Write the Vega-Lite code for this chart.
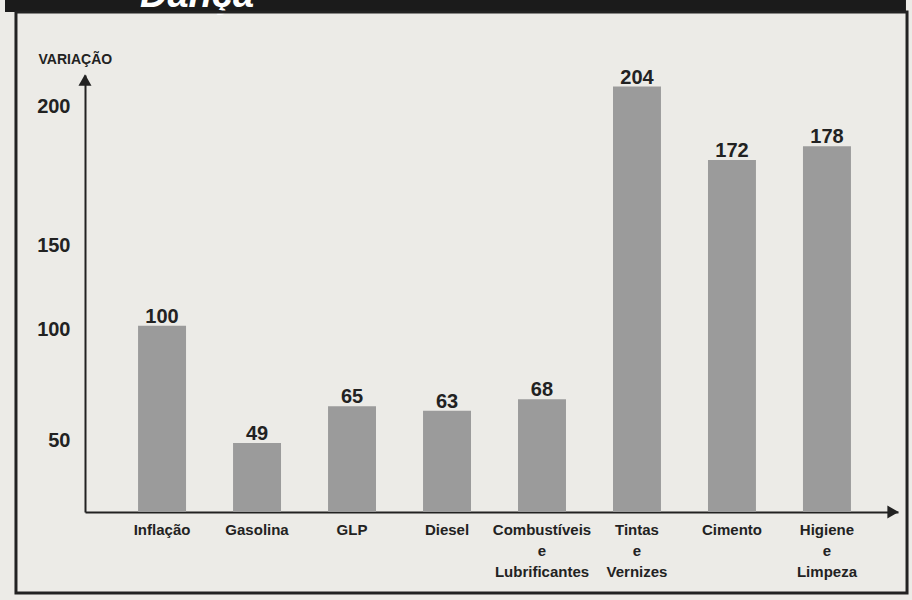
{
  "$schema": "https://vega.github.io/schema/vega-lite/v6.json",
  "width": 813,
  "height": 437,
  "autosize": "none",
  "padding": {"left": 85, "top": 75, "right": 14, "bottom": 88},
  "background": "#ecebe7",
  "config": {
    "view": {"stroke": null},
    "font": "Liberation Sans, Arial, sans-serif"
  },
  "datasets": {
    "bars": [
      {"item": "Inflação", "value": 100},
      {"item": "Gasolina", "value": 49},
      {"item": "GLP", "value": 65},
      {"item": "Diesel", "value": 63},
      {"item": "Combustíveis e Lubrificantes", "value": 68},
      {"item": "Tintas e Vernizes", "value": 204},
      {"item": "Cimento", "value": 172},
      {"item": "Higiene e Limpeza", "value": 178}
    ]
  },
  "layer": [
    {
      "data": {"values": [{}]},
      "layer": [
        {
          "mark": {"type": "rect", "fill": "#1b1b1b"},
          "encoding": {
            "x": {"datum": -0.0984, "type": "quantitative", "scale": {"domain": [0, 1], "nice": false, "zero": false}, "axis": null},
            "x2": {"datum": 1.0098},
            "y": {"datum": 1.1442, "type": "quantitative", "scale": {"domain": [0, 1], "nice": false, "zero": false}, "axis": null},
            "y2": {"datum": 1.1716}
          }
        },
        {
          "mark": {"type": "text", "align": "left", "baseline": "alphabetic", "fontSize": 38, "fontStyle": "italic", "fontWeight": "bold", "color": "#ffffff"},
          "encoding": {
            "x": {"datum": 0.0677, "type": "quantitative", "scale": {"domain": [0, 1], "nice": false, "zero": false}, "axis": null},
            "y": {"datum": 1.1556, "type": "quantitative", "scale": {"domain": [0, 1], "nice": false, "zero": false}, "axis": null},
            "text": {"value": "Dança"}
          }
        },
        {
          "mark": {"type": "rect", "fill": null, "stroke": "#222222", "strokeWidth": 3},
          "encoding": {
            "x": {"datum": -0.0849, "type": "quantitative", "scale": {"domain": [0, 1], "nice": false, "zero": false}, "axis": null},
            "x2": {"datum": 1.0111},
            "y": {"datum": -0.1854, "type": "quantitative", "scale": {"domain": [0, 1], "nice": false, "zero": false}, "axis": null},
            "y2": {"datum": 1.1442}
          }
        },
        {
          "mark": {"type": "point", "shape": "triangle-up", "filled": true, "color": "#222222", "size": 170, "opacity": 1, "yOffset": 5},
          "encoding": {
            "x": {"datum": 0, "type": "quantitative", "scale": {"domain": [0, 1], "nice": false, "zero": false}, "axis": null},
            "y": {"datum": 1, "type": "quantitative", "scale": {"domain": [0, 1], "nice": false, "zero": false}, "axis": null}
          }
        },
        {
          "mark": {"type": "point", "shape": "triangle-right", "filled": true, "color": "#222222", "size": 170, "opacity": 1, "xOffset": -5},
          "encoding": {
            "x": {"datum": 1, "type": "quantitative", "scale": {"domain": [0, 1], "nice": false, "zero": false}, "axis": null},
            "y": {"datum": 0, "type": "quantitative", "scale": {"domain": [0, 1], "nice": false, "zero": false}, "axis": null}
          }
        }
      ]
    },
    {
      "data": {"name": "bars"},
      "encoding": {
        "x": {
          "field": "item",
          "type": "nominal",
          "sort": null,
          "scale": {"paddingInner": 0.495, "paddingOuter": 0.527, "align": 0.53},
          "axis": {
            "title": null,
            "ticks": false,
            "domainColor": "#222222",
            "domainWidth": 2,
            "labelAngle": 0,
            "labelPadding": 10,
            "labelFontSize": 15,
            "labelFontWeight": "bold",
            "labelColor": "#222222",
            "labelLineHeight": 21,
            "labelBaseline": "top",
            "labelExpr": "split(replace(datum.label, ' e ', '\\ne\\n'), '\\n')"
          }
        },
        "y": {
          "field": "value",
          "type": "quantitative",
          "scale": {"domain": [19, 209], "nice": false, "zero": false},
          "axis": {
            "title": "VARIAÇÃO",
            "titleAngle": 0,
            "titleAlign": "left",
            "titleBaseline": "alphabetic",
            "titleX": -47,
            "titleY": -12,
            "titleFontSize": 14,
            "titleFontWeight": "bold",
            "titleColor": "#222222",
            "values": [50, 100, 150, 200],
            "grid": false,
            "ticks": false,
            "domainColor": "#222222",
            "domainWidth": 2,
            "labelPadding": 15,
            "labelFontSize": 20,
            "labelFontWeight": "bold",
            "labelColor": "#222222",
            "labelOffset": {"expr": "datum.value == 150 ? 35 : (datum.value == 200 ? 11 : (datum.value == 100 ? 4 : 0))"}
          }
        }
      },
      "layer": [
        {
          "mark": {"type": "bar", "color": "#9b9b9b"},
          "encoding": {"y2": {"datum": 19}}
        },
        {
          "mark": {"type": "text", "baseline": "alphabetic", "dy": -3, "fontSize": 20, "fontWeight": "bold", "color": "#222222"},
          "encoding": {"text": {"field": "value", "type": "quantitative"}}
        }
      ]
    }
  ],
  "resolve": {"scale": {"x": "independent", "y": "independent"}}
}
